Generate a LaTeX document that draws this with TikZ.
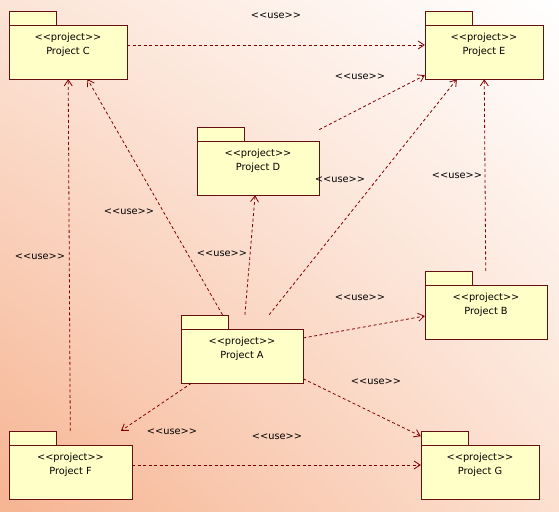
\documentclass[tikz,border=0pt]{standalone}
\usepackage{fontspec}
\newfontfamily\umlfont{DejaVu Sans}
\usetikzlibrary{arrows.meta,shadings}

\definecolor{pkgfill}{RGB}{255,255,200}
\definecolor{pkgline}{RGB}{100,16,16}
\definecolor{useline}{RGB}{128,0,0}
\definecolor{bgll}{RGB}{246,180,146}
\definecolor{bgul}{RGB}{252,228,215}
\definecolor{bglr}{RGB}{252,224,208}
\definecolor{bgur}{RGB}{255,255,255}

\begin{document}
\begin{tikzpicture}
  [x=1pt,y=-1pt,every node/.style={font=\umlfont\fontsize{9.8}{13.6}\selectfont}]

  \tikzset{
  pkgbox/.style = {draw=pkgline, fill=pkgfill, line width=0.9pt},
  pkg/.style = {minimum height=68pt, inner sep=0pt, align=center},
  use/.style = {draw=useline, line width=0.8pt, dash pattern=on 3pt off 2.5pt,
    -{Straight Barb[length=6pt,width=8pt]}}
  }

  \useasboundingbox (0,0) rectangle (559,511);
  \shade[upper left=bgul, upper right=bgur, lower left=bgll, lower right=bglr]
    (0,0) rectangle (559,511);

  \foreach \n/\x/\y/\w/\t in {pc/9/11/118/C, pe/425/11/118/E, pd/197/127/122/D,
      pb/425/271/122/B, pa/181/315/122/A, pf/9/431/123/F, pg/421/431/118/G} {
    \draw[pkgbox] (\x,\y) rectangle ++(47,14);
    \draw[pkgbox] (\x,\y+14) rectangle ++(\w,54);
    \node[pkg, minimum width=\w pt] (\n) at (\x+\w/2,\y+34) {<<project>>\\Project \t};
  }

  \foreach \from/\to in {pc/pe,pd/pe,pa/pe,pb/pe,pa/pc,pa/pd,pf/pc,pa/pb,pa/pf,pa/pg,pf/pg}
    \draw[use] (\from) -- (\to);

  \foreach \lx/\ly [count=\i] in {276/16,360/77,340/180,457/176,129/212,222/254,
      40/257,360/298,172/432,376/382,277/437}
    \node (use\i) at (\lx,\ly) {<<use>>};

\end{tikzpicture}
\end{document}
